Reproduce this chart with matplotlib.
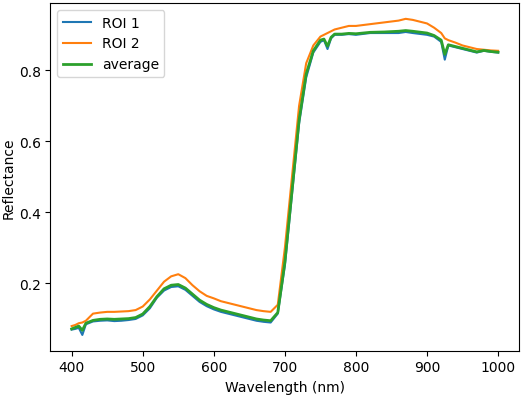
import matplotlib
matplotlib.use("Agg")
import matplotlib.pyplot as plt

wavelength = [400, 405, 410, 415, 420, 430, 440, 450, 460, 470, 480, 490, 500, 510, 520,
              530, 540, 550, 560, 570, 580, 590, 600, 610, 620, 630, 640, 650, 660, 670,
              680, 690, 700, 710, 720, 730, 740, 750, 755, 760, 765, 770, 780, 790, 800,
              820, 840, 860, 870, 880, 900, 910, 920, 925, 930, 940, 950, 960, 970, 980,
              990, 1000]
roi1 = [0.070, 0.072, 0.075, 0.055, 0.085, 0.093, 0.095, 0.096, 0.094, 0.095, 0.097, 0.100,
        0.110, 0.130, 0.160, 0.180, 0.190, 0.192, 0.182, 0.165, 0.148, 0.136, 0.127, 0.120,
        0.115, 0.110, 0.105, 0.100, 0.095, 0.092, 0.090, 0.115, 0.250, 0.450, 0.650, 0.780,
        0.850, 0.880, 0.885, 0.860, 0.890, 0.900, 0.900, 0.902, 0.900, 0.905, 0.905, 0.905,
        0.908, 0.905, 0.900, 0.895, 0.880, 0.830, 0.870, 0.865, 0.860, 0.855, 0.850, 0.855,
        0.852, 0.850]
roi2 = [0.080, 0.083, 0.088, 0.090, 0.095, 0.115, 0.118, 0.120, 0.120, 0.121, 0.122, 0.125,
        0.135, 0.155, 0.180, 0.205, 0.220, 0.226, 0.215, 0.195, 0.178, 0.165, 0.158, 0.150,
        0.145, 0.140, 0.135, 0.130, 0.125, 0.122, 0.120, 0.140, 0.300, 0.500, 0.700, 0.820,
        0.870, 0.895, 0.900, 0.905, 0.910, 0.915, 0.920, 0.925, 0.925, 0.930, 0.935, 0.940,
        0.945, 0.942, 0.932, 0.920, 0.905, 0.890, 0.885, 0.878, 0.870, 0.865, 0.860, 0.858,
        0.856, 0.855]
average = [0.072, 0.076, 0.080, 0.068, 0.088, 0.096, 0.099, 0.100, 0.099, 0.100, 0.101, 0.104,
           0.114, 0.135, 0.163, 0.185, 0.195, 0.197, 0.187, 0.170, 0.153, 0.141, 0.132, 0.125,
           0.120, 0.115, 0.110, 0.105, 0.100, 0.097, 0.095, 0.118, 0.260, 0.460, 0.660, 0.790,
           0.855, 0.885, 0.888, 0.868, 0.893, 0.902, 0.902, 0.904, 0.903, 0.907, 0.908, 0.910,
           0.912, 0.910, 0.905, 0.898, 0.885, 0.845, 0.872, 0.867, 0.862, 0.857, 0.852, 0.856,
           0.853, 0.851]

fig, ax = plt.subplots(figsize=(5.3, 4.02), dpi=100)
ax.plot(wavelength, roi1, color='#1f77b4', label='ROI 1')
ax.plot(wavelength, roi2, color='#ff7f0e', label='ROI 2')
ax.plot(wavelength, average, color='#2ca02c', linewidth=2, label='average')
ax.set_xlabel('Wavelength (nm)')
ax.set_ylabel('Reflectance', labelpad=2)
ax.set_xticks([400, 500, 600, 700, 800, 900, 1000])
ax.set_yticks([0.2, 0.4, 0.6, 0.8])
ax.legend(loc='upper left')
fig.subplots_adjust(left=0.095, right=0.98, top=0.99, bottom=0.125)
fig.savefig('out.png')
